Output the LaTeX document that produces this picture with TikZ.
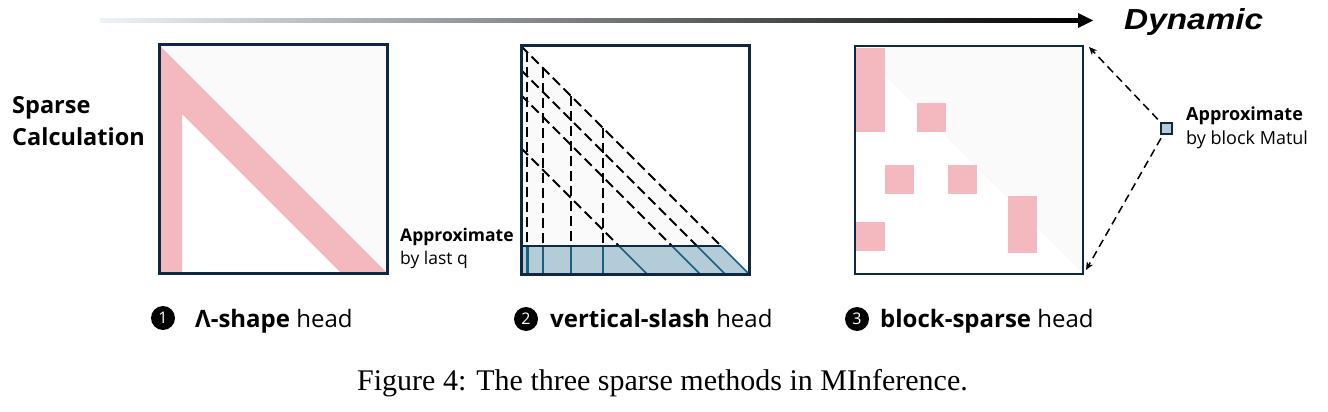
\documentclass[tikz,border=0pt]{standalone}
\usepackage{fontspec}
\setmainfont{Open Sans}
\newfontfamily\capfont{Liberation Serif}
\newfontfamily\dynfont{Liberation Sans}[FakeStretch=1.15]
\usetikzlibrary{calc,arrows.meta}
\tikzset{>={Stealth[length=8pt,width=7pt]}}
\definecolor{navy}{HTML}{0E2841}
\definecolor{pinkblk}{HTML}{F4B8BF}
\definecolor{paper}{HTML}{FAFAFA}
\definecolor{stripfill}{HTML}{B4CBD8}
\definecolor{stripline}{HTML}{1B5F80}
\definecolor{fadeblue}{HTML}{EEF3F8}
\newcommand{\side}{228}
\tikzset{
  box/.style={line width=3pt,draw=navy},
  slash/.style={dash pattern=on 10pt off 5pt,line width=1.8pt},
  qline/.style={stripline,line width=1.5pt},
  lbl/.style={anchor=base west,inner sep=0pt,font=\fontsize{24}{28}\selectfont},
  note/.style={anchor=base west,inner sep=0pt,font=\fontsize{18}{21}\selectfont},
  notebf/.style={note,font=\fontsize{18}{21}\selectfont\bfseries},
  num/.style={circle,fill=black,text=white,minimum size=24pt,inner sep=0pt,
    font=\fontsize{16}{16}\selectfont},
  dasharrow/.style={->,dash pattern=on 8pt off 5pt,line width=1.5pt,shorten <=4pt}
}

\begin{document}
\begin{tikzpicture}[x=1pt,y=-1pt]
  \useasboundingbox (0,0) rectangle (1328,412);
  % dynamic axis
  \coordinate (dynS) at (100,20.5);
  \coordinate (dynE) at (1093,20.5);
  \shade[left color=fadeblue,right color=black] ($(dynS)+(0,-2)$) rectangle ($(dynE)+(-13,2)$);
  \fill ($(dynE)+(-15,-7.5)$) -- (dynE) -- ($(dynE)+(-15,7.5)$) -- cycle;
  \node[anchor=base west,inner sep=0pt,font=\dynfont\fontsize{29}{29}\selectfont\bfseries\itshape] (dyn) at (1124,30) {Dynamic};
  \node[lbl,font=\fontsize{23.5}{28}\selectfont\bfseries] (sparse) at (12,113) {Sparse};
  \node[lbl,font=\fontsize{23.5}{28}\selectfont\bfseries] (calc) at (12,145) {Calculation};

  % A-shape
  \coordinate (a1) at (159,45);
  \fill[paper] (a1) -- ++(\side,0) -- ++(0,\side) -- cycle;
  \fill[pinkblk] (a1) -- ++(\side,\side) -- ++(-46,0) -- (182,114) -- (182,273) -- (159,273) -- cycle;
  \draw[box] (a1) rectangle ++(\side,\side);

  % vertical-slash
  \coordinate (b2) at (521,46);
  \fill[paper] (b2) -- ++(\side,\side) -- ++(-\side,0) -- cycle;
  \fill[stripfill] (521,246) -- (721,246) -- (749,274) -- (521,274) -- cycle;
  \foreach \x in {543,571,603} {
    \draw[slash] (\x,\x-475) -- (\x,246);
    \draw[qline] (\x,246) -- (\x,274);
  }
  \draw[slash,line width=2.8pt] (527,52) -- (527,246);
  \draw[qline,line width=3pt] (527,246) -- (527,274);
  \foreach \y in {46,70,95,148} {
    \draw[slash] (521,\y) -- ++(246-\y,246-\y);
    \draw[qline] (767-\y,246) -- ++(28,28);
  }
  \draw[navy,line width=2pt] (521,246) -- (721,246);
  \draw[box] (b2) rectangle ++(\side,\side);
  \node[notebf,font=\fontsize{17.5}{21}\selectfont\bfseries] (lastq) at (400,241) {Approximate};
  \node[note,font=\fontsize{17.5}{21}\selectfont] (lastqb) at (400,264) {by last q};

  % block-sparse
  \coordinate (c3) at (855,46);
  \fill[paper] (c3) -- ++(\side,0) -- ++(0,\side) -- cycle;
  \foreach \x/\y/\w/\h in {856/48/29/84,917/103/29/29,885/165/29/29,948/165/29/29,856/222/29/29,1008/196/29/57}
    \fill[pinkblk] (\x,\y) rectangle ++(\w,\h);
  \draw[box,line width=2.5pt] (c3) rectangle ++(\side,\side);
  \node[draw=navy,fill=stripfill,line width=1.5pt,minimum size=11pt,inner sep=0pt] (blkq) at (1166.5,128.5) {};
  \coordinate (c3ne) at (1089,47);
  \coordinate (c3se) at (1086,270);
  \draw[dasharrow] (blkq) -- (c3ne);
  \draw[dasharrow] (blkq) -- (c3se);
  \node[notebf] (matul) at (1186,121) {Approximate};
  \node[note] (matulb) at (1186,144) {by block Matul};

  % head labels
  \node[num] (n1) at (163,318) {1};
  \node[num] (n2) at (526,319) {2};
  \node[num] (n3) at (857,319) {3};
  \node[lbl] (h1) at (195,327) {\textbf{Λ-shape} head};
  \node[lbl] (h2) at (550,327) {\textbf{vertical-slash} head};
  \node[lbl] (h3) at (880,327) {\textbf{block-sparse} head};

  \node[anchor=base west,inner sep=0pt,font=\capfont\fontsize{30}{32}\selectfont] (cap) at (357,390) {Figure 4: The three sparse methods in MInference.};
\end{tikzpicture}
\end{document}
